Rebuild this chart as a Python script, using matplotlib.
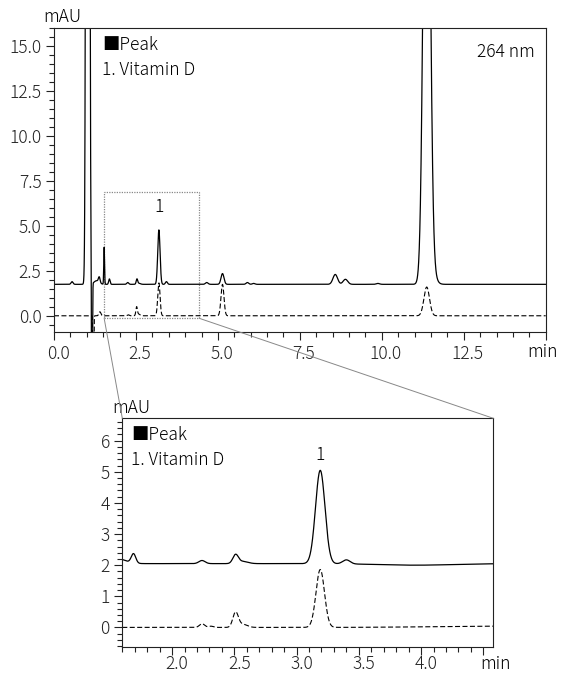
#!/usr/bin/env python3
"""Chromatogram of vitamin D at 264 nm, full run plus a zoomed inset."""

import matplotlib
matplotlib.use("Agg")
import matplotlib.pyplot as plt
import matplotlib.transforms as mtransforms
from matplotlib.patches import Rectangle, ConnectionPatch
from matplotlib.ticker import MultipleLocator, FuncFormatter
import numpy as np

plt.rcParams["font.family"] = ["Noto Sans CJK JP", "DejaVu Sans"]
plt.rcParams["font.weight"] = "light"
plt.rcParams["font.size"] = 12.5

# peak tables: (retention time min, height mAU, sigma min)
TOP_SOLID_BASE = 1.75
TOP_SOLID_PEAKS = [
    (0.55, 0.15, 0.03), (1.03, 200.0, 0.034), (1.16, -25.0, 0.010),
    (1.30, 0.20, 0.08), (1.38, 0.30, 0.025), (1.53, 2.06, 0.012),
    (1.69, 0.30, 0.022), (2.25, 0.10, 0.03), (2.53, 0.27, 0.022),
    (2.58, 0.06, 0.05), (3.20, 3.03, 0.035), (3.43, 0.15, 0.03),
    (4.66, 0.10, 0.04), (5.14, 0.60, 0.045), (5.90, 0.10, 0.04),
    (6.09, 0.05, 0.04), (8.58, 0.55, 0.07), (8.89, 0.28, 0.07),
    (9.88, 0.05, 0.05), (11.37, 35.0, 0.095), (11.50, 0.8, 0.12),
]
TOP_DASH_BASE = 0.0
TOP_DASH_PEAKS = [
    (1.20, -25.0, 0.010), (1.40, 0.22, 0.03), (2.27, 0.05, 0.03),
    (2.52, 0.45, 0.022), (2.57, 0.10, 0.05), (3.20, 1.83, 0.035),
    (5.14, 1.75, 0.045), (11.37, 1.60, 0.085),
]

IN_SOLID_BASE = 2.05
IN_SOLID_PEAKS = [
    (1.55, 0.17, 0.07), (1.69, 0.30, 0.018), (2.24, 0.10, 0.025),
    (2.51, 0.28, 0.022), (2.57, 0.07, 0.04), (3.19, 3.00, 0.038),
    (3.40, 0.13, 0.03), (3.95, -0.05, 0.30),
]
IN_DASH_BASE = 0.0
IN_DASH_PEAKS = [
    (2.24, 0.12, 0.02), (2.31, 0.04, 0.02), (2.51, 0.48, 0.022),
    (2.57, 0.10, 0.035), (3.19, 1.86, 0.034), (4.60, 0.04, 0.50),
]

TOP_XLIM = (0.0, 15.0)
TOP_YLIM = (-0.92, 16.0)
IN_XLIM = (1.60, 4.58)
IN_YLIM = (-0.62, 6.72)
ZOOM_BOX = (1.53, -0.14, 4.43, 6.91)


def trace(t, base, peaks):
    y = np.full_like(t, base)
    for rt, h, s in peaks:
        y += h * np.exp(-0.5 * ((t - rt) / s) ** 2)
    return y


def style_axes(ax):
    for sp in ax.spines.values():
        sp.set_linewidth(0.8)
        sp.set_color("#222222")
    ax.tick_params(which="both", direction="out", top=False, right=False,
                   width=0.8, color="#222222", labelcolor="#222222")
    ax.tick_params(which="major", length=6, pad=3)
    ax.tick_params(which="minor", length=3.5)


def shift_xlabels(ax, fig, dx_px):
    off = mtransforms.ScaledTranslation(dx_px / fig.dpi, 0, fig.dpi_scale_trans)
    for lbl in ax.get_xticklabels():
        lbl.set_transform(lbl.get_transform() + off)


fig = plt.figure(figsize=(5.63, 6.73), dpi=100)
ax = fig.add_axes([54 / 563, 1 - 332.3 / 673, 491.7 / 563, 304 / 673])
ax_in = fig.add_axes([122.3 / 563, 1 - 646.7 / 673, 371 / 563, 228.4 / 673])

dash = (0, (4.5, 2.2))

# --- full chromatogram
t = np.linspace(TOP_XLIM[0], TOP_XLIM[1], 6000)
ax.plot(t, trace(t, TOP_SOLID_BASE, TOP_SOLID_PEAKS), color="black", lw=0.9)
ax.plot(t, trace(t, TOP_DASH_BASE, TOP_DASH_PEAKS), color="black", lw=0.8,
        linestyle=dash)
ax.set_xlim(*TOP_XLIM)
ax.set_ylim(*TOP_YLIM)
style_axes(ax)
ax.xaxis.set_minor_locator(MultipleLocator(0.5))
ax.yaxis.set_major_locator(MultipleLocator(2.5))
ax.yaxis.set_minor_locator(MultipleLocator(0.5))
ax.set_xticks(np.arange(0, 15.01, 2.5))
ax.set_xticklabels([f"{v:.1f}" for v in np.arange(0, 12.51, 2.5)] + [""])
ax.yaxis.set_major_formatter(FuncFormatter(lambda v, p: f"{v:.1f}"))
shift_xlabels(ax, fig, 4)

ax.text(0.0175, 1.008, "mAU", transform=ax.transAxes, ha="center", va="bottom")
ax.text(0.9945, -0.080, "min", transform=ax.transAxes, ha="center", va="baseline")
ax.text(0.978, 0.922, "264 nm", transform=ax.transAxes, ha="right", va="center")
ax.text(0.0976, 0.945, "■Peak", transform=ax.transAxes, ha="left", va="center")
ax.text(0.0976, 0.863, "1. Vitamin D", transform=ax.transAxes, ha="left", va="center")
ax.text(3.20, 6.07, "1", ha="center", va="center")

x0, y0, x1, y1 = ZOOM_BOX
ax.add_patch(Rectangle((x0, y0), x1 - x0, y1 - y0, fill=False,
                       edgecolor="#888888", linestyle=(0, (1, 1)), lw=0.9))

# --- zoomed inset
ti = np.linspace(IN_XLIM[0], IN_XLIM[1], 3000)
ax_in.plot(ti, trace(ti, IN_SOLID_BASE, IN_SOLID_PEAKS), color="black", lw=0.9)
ax_in.plot(ti, trace(ti, IN_DASH_BASE, IN_DASH_PEAKS), color="black", lw=0.8,
           linestyle=dash)
ax_in.set_xlim(*IN_XLIM)
ax_in.set_ylim(*IN_YLIM)
style_axes(ax_in)
ax_in.tick_params(axis="x", which="major", pad=0)
ax_in.set_xticks(np.arange(2.0, 4.51, 0.5))
ax_in.set_xticklabels([f"{v:.1f}" for v in np.arange(2.0, 4.01, 0.5)] + [""])
ax_in.xaxis.set_minor_locator(MultipleLocator(0.1))
ax_in.yaxis.set_major_locator(MultipleLocator(1))
ax_in.yaxis.set_minor_locator(MultipleLocator(0.2))
ax_in.yaxis.set_major_formatter(FuncFormatter(lambda v, p: f"{v:.0f}"))
shift_xlabels(ax_in, fig, 5)

ax_in.text(0.023, 1.006, "mAU", transform=ax_in.transAxes, ha="center", va="bottom")
ax_in.text(1.007, -0.097, "min", transform=ax_in.transAxes, ha="center", va="baseline")
ax_in.text(0.0235, 0.927, "■Peak", transform=ax_in.transAxes, ha="left", va="center")
ax_in.text(0.0235, 0.817, "1. Vitamin D", transform=ax_in.transAxes, ha="left", va="center")
ax_in.text(3.19, 5.54, "1", ha="center", va="center")

for xa, xb in [((x0, y0), (0, 1)), ((x1, y0), (1, 1))]:
    con = ConnectionPatch(xyA=xa, coordsA=ax.transData, xyB=xb,
                          coordsB=ax_in.transAxes, color="#888888", lw=0.7)
    fig.add_artist(con)

fig.savefig("out.png", dpi=100)
